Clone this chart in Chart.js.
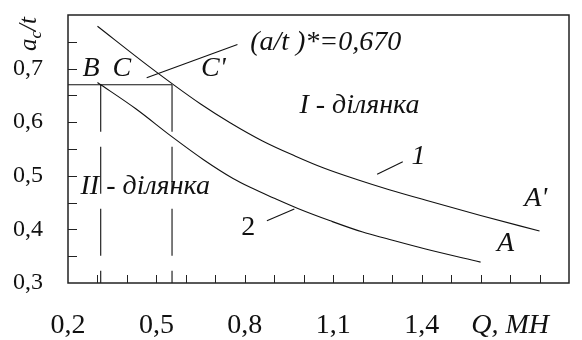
<!DOCTYPE html>
<html>
<head>
<meta charset="utf-8">
<script src="https://cdn.jsdelivr.net/npm/chart.js@4.4.1/dist/chart.umd.min.js"></script>
<style>
  body { margin: 0; background: #fff; }
  canvas { display: block; }
</style>
</head>
<body>
<canvas id="chart" width="582" height="340"></canvas>
<script>
// curve 1 (upper, C' -> A') and curve 2 (lower, B -> A)
const curve1Q = [0.30, 0.47, 0.553, 0.65, 0.75, 0.86, 0.97, 1.07, 1.18, 1.29, 1.43, 1.60, 1.80];
const curve1Y = [0.779, 0.706, 0.672, 0.634, 0.599, 0.565, 0.537, 0.514, 0.493, 0.474, 0.452, 0.426, 0.397];
const curve2Q = [0.30, 0.43, 0.55, 0.66, 0.76, 0.82, 0.90, 0.98, 1.09, 1.20, 1.28, 1.41, 1.60];
const curve2Y = [0.674, 0.625, 0.574, 0.530, 0.495, 0.478, 0.458, 0.439, 0.416, 0.395, 0.383, 0.364, 0.339];

// critical ratio (a/t)* and the two section borders
const criticalRatio = 0.670;
const borderQ = [0.311, 0.553];

// leader lines [q1, v1, q2, v2]
const leaders = [
    [0.467, 0.683, 0.775, 0.745],
    [1.249, 0.503, 1.336, 0.526],
    [0.875, 0.416, 0.968, 0.438]
];

const notes = [
    { text: 'B', q: 0.278, v: 0.700 },
    { text: 'C', q: 0.383, v: 0.700 },
    { text: "C'", q: 0.693, v: 0.700 },
    { text: '(a/t )*=0,670', q: 0.818, v: 0.749, align: 'left' },
    { text: 'I - ділянка', q: 1.189, v: 0.631 },
    { text: 'II - ділянка', q: 0.462, v: 0.479 },
    { text: '1', q: 1.389, v: 0.535 },
    { text: '2', q: 0.812, v: 0.403, upright: true },
    { text: "A'", q: 1.787, v: 0.457 },
    { text: 'A', q: 1.685, v: 0.373 }
];

const xLabels = { 2: '0,2', 5: '0,5', 8: '0,8', 11: '1,1', 14: '1,4', 17: 'Q, MH' };
const SERIF = '"Liberation Serif", "Times New Roman", serif';

const toPoints = (qs, ys) => qs.map((q, i) => ({ x: q, y: ys[i] }));

const lineStyle = {
    borderColor: '#111',
    borderWidth: 1.1,
    pointRadius: 0,
    fill: false
};

const datasets = [
    { ...lineStyle, data: toPoints(curve1Q, curve1Y), cubicInterpolationMode: 'monotone' },
    { ...lineStyle, data: toPoints(curve2Q, curve2Y), cubicInterpolationMode: 'monotone' },
    { ...lineStyle, data: [{ x: 0.2, y: criticalRatio }, { x: borderQ[1], y: criticalRatio }] }
];
borderQ.forEach(q => {
    datasets.push({ ...lineStyle, borderDash: [47, 15],
        data: [{ x: q, y: criticalRatio }, { x: q, y: 0.3 }] });
});
leaders.forEach(l => {
    datasets.push({ ...lineStyle, data: [{ x: l[0], y: l[1] }, { x: l[2], y: l[3] }] });
});

const framePlugin = {
    id: 'frame',
    afterDatasetsDraw(chart) {
        const { ctx, chartArea: a, scales: { x, y } } = chart;
        ctx.save();
        ctx.strokeStyle = '#222';
        ctx.lineWidth = 1.5;
        ctx.strokeRect(a.left, a.top, a.right - a.left, a.bottom - a.top);

        // inward ticks
        ctx.lineWidth = 1;
        ctx.beginPath();
        x.ticks.forEach(t => {
            const px = Math.round(x.getPixelForValue(t.value)) + 0.5;
            if (px < a.left + 3 || px > a.right - 3) return;
            ctx.moveTo(px, a.bottom);
            ctx.lineTo(px, a.bottom - 8);
        });
        y.ticks.forEach(t => {
            const py = Math.round(y.getPixelForValue(t.value)) + 0.5;
            if (py < a.top + 3 || py > a.bottom - 3) return;
            ctx.moveTo(a.left, py);
            ctx.lineTo(a.left + 9, py);
        });
        ctx.stroke();

        // text notes
        ctx.fillStyle = '#111';
        ctx.textBaseline = 'middle';
        notes.forEach(n => {
            ctx.font = (n.upright ? '' : 'italic ') + '28px ' + SERIF;
            ctx.textAlign = n.align || 'center';
            ctx.fillText(n.text, x.getPixelForValue(n.q), y.getPixelForValue(n.v));
        });

        // axis title a_c/t, rotated
        ctx.translate(a.left - 32, a.top + 36);
        ctx.rotate(-Math.PI / 2);
        ctx.textAlign = 'left';
        ctx.textBaseline = 'alphabetic';
        ctx.font = 'italic 25px ' + SERIF;
        ctx.fillText('a', 0, 0);
        let w = ctx.measureText('a').width;
        ctx.font = 'italic 17px ' + SERIF;
        ctx.fillText('c', w, 5);
        w += ctx.measureText('c').width;
        ctx.font = 'italic 25px ' + SERIF;
        ctx.fillText('/t', w, 0);
        ctx.restore();
    }
};

const noPad = s => { s.paddingTop = 0; s.paddingBottom = 0; s.paddingLeft = 0; s.paddingRight = 0; };

new Chart(document.getElementById('chart'), {
    type: 'line',
    data: { datasets },
    options: {
        responsive: false,
        animation: false,
        devicePixelRatio: 1,
        layout: { padding: { top: 15, right: 13, left: 0, bottom: 0 } },
        plugins: { legend: { display: false }, tooltip: { enabled: false } },
        scales: {
            x: {
                type: 'linear',
                min: 0.2,
                max: 1.9,
                grid: { display: false, drawTicks: false },
                border: { display: false },
                afterFit: s => { s.height = 57; noPad(s); },
                ticks: {
                    stepSize: 0.1,
                    autoSkip: false,
                    maxRotation: 0,
                    padding: 26,
                    color: '#111',
                    font: c => ({
                        family: SERIF,
                        size: 28,
                        style: (c.tick && Math.round(c.tick.value * 10) === 17) ? 'italic' : 'normal'
                    }),
                    callback: v => xLabels[Math.round(v * 10)] || ''
                }
            },
            y: {
                type: 'linear',
                min: 0.3,
                max: 0.8,
                grid: { display: false, drawTicks: false },
                border: { display: false },
                afterFit: s => { s.width = 68; noPad(s); },
                ticks: {
                    stepSize: 0.05,
                    autoSkip: false,
                    padding: 25,
                    color: '#111',
                    font: { family: SERIF, size: 24 },
                    callback: v => {
                        const k = Math.round(v * 100);
                        if (k % 10 !== 0 || k > 70) return '';
                        return (k / 100).toFixed(1).replace('.', ',');
                    }
                }
            }
        }
    },
    plugins: [framePlugin]
});
</script>
</body>
</html>
